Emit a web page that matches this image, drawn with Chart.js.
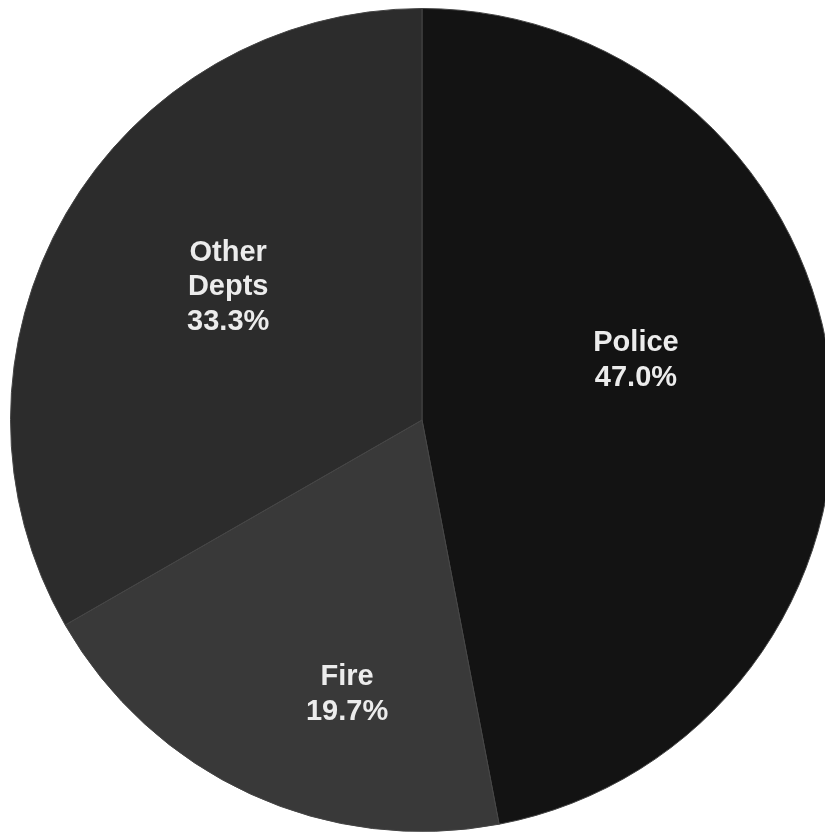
<!DOCTYPE html>
<html>
<head>
<meta charset="utf-8">
<script src="https://cdn.jsdelivr.net/npm/chart.js@4/dist/chart.umd.min.js"></script>
<style>
  html, body { margin: 0; padding: 0; background: #fff; overflow: hidden; width: 825px; height: 833px; }
  #wrap { position: absolute; left: 10px; top: 8px; width: 824px; height: 824px; }
</style>
</head>
<body>
<div id="wrap"><canvas id="pie" width="824" height="824"></canvas></div>
<script>
// slices, clockwise from 12 o'clock
const labels = ['Police', 'Fire', 'Other Depts'];
const shares = [47.0, 19.7, 33.3];
const colors = ['#131313', '#393939', '#2c2c2c'];

// where the text block sits, as a fraction of the radius from the centre
const labelSpots = [[0.52, -0.145], [-0.182, 0.667], [-0.471, -0.323]];

const sliceLabels = {
  id: 'sliceLabels',
  afterDatasetsDraw(chart) {
    const ctx = chart.ctx;
    const arcs = chart.getDatasetMeta(0).data;
    ctx.save();
    ctx.fillStyle = '#ececec';
    ctx.font = 'bold 29px "Liberation Sans", Arial, sans-serif';
    ctx.textAlign = 'center';
    ctx.textBaseline = 'middle';
    arcs.forEach((arc, i) => {
      const r = arc.outerRadius;
      const x = arc.x + labelSpots[i][0] * r;
      const y = arc.y + labelSpots[i][1] * r;
      const lines = labels[i].split(' ');
      lines.push(shares[i].toFixed(1) + '%');
      const lh = 34.5;
      const top = y - (lines.length - 1) * lh / 2;
      lines.forEach((t, k) => ctx.fillText(t, x, top + k * lh));
    });
    ctx.restore();
  }
};

new Chart(document.getElementById('pie'), {
  type: 'pie',
  data: {
    labels: labels,
    datasets: [{
      data: shares,
      backgroundColor: colors,
      borderColor: '#454545',
      borderWidth: 1
    }]
  },
  options: {
    responsive: false,
    animation: false,
    layout: { padding: 0 },
    plugins: {
      legend: { display: false },
      tooltip: { enabled: false }
    }
  },
  plugins: [sliceLabels]
});
</script>
</body>
</html>
